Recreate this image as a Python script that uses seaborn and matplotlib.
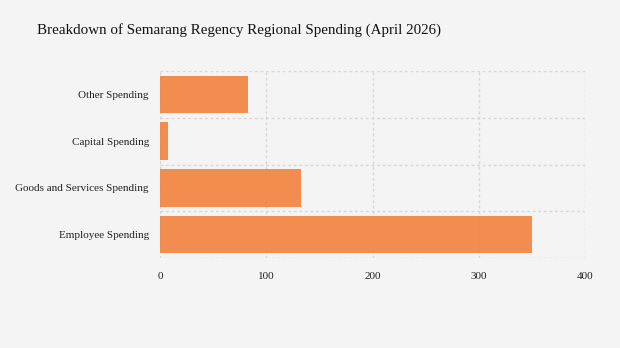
import matplotlib
matplotlib.use("Agg")
import matplotlib.pyplot as plt
import seaborn as sns
import pandas as pd
import numpy as np

categories = ["Other Spending", "Capital Spending", "Goods and Services Spending", "Employee Spending"]
values = [83, 7.5, 133, 350]
xticks = [0, 100, 200, 300, 400]

sns.set_style("white")
plt.rcParams['font.family'] = ['Liberation Serif', 'DejaVu Serif']

bg = "#f4f4f4"
fig = plt.figure(figsize=(6.2, 3.48), dpi=100, facecolor=bg)
ax = fig.add_axes([160/620, 1-258/348, 425/620, 187/348])
ax.set_facecolor(bg)

df = pd.DataFrame({"category": categories, "value": values})
sns.barplot(data=df, x="value", y="category", order=categories, color="#f3823d",
            saturation=1, width=0.8, alpha=0.9, linewidth=0, ax=ax)

ax.set_xlim(0, 400)
ax.set_ylim(3.5, -0.5)
ax.set_xticks(xticks)
ax.set_xticklabels([str(t) for t in xticks], fontsize=8, color="#222222")
ax.set_yticks(range(len(categories)))
ax.set_yticklabels(categories, fontsize=8, color="#222222")
ax.set_yticks(np.arange(-0.5, 4, 1), minor=True)
ax.tick_params(axis="y", which="major", length=5, color="#d8d8d8", width=1, pad=3)
ax.tick_params(axis="y", which="minor", length=0)
ax.tick_params(axis="x", length=0, pad=10)
ax.set_xlabel("")
ax.set_ylabel("")
for s in ax.spines.values():
    s.set_visible(False)
ax.grid(axis="x", which="major", color="#d6d6d6", linestyle=(0, (2, 2)), linewidth=1)
ax.grid(axis="y", which="minor", color="#d6d6d6", linestyle=(0, (2, 2)), linewidth=1)
ax.set_axisbelow(True)

fig.text(37/620, 1-30/348, "Breakdown of Semarang Regency Regional Spending (April 2026)",
         fontsize=10.8, color="#111111", va="center", ha="left")

fig.savefig("out.png", dpi=100, facecolor=bg)
